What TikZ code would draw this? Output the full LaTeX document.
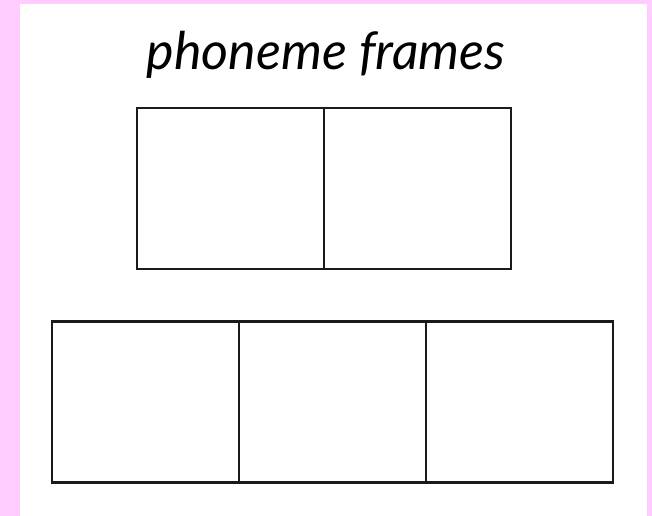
\documentclass[tikz,border=0pt]{standalone}
\usepackage{fontspec}
\newfontfamily\titlefont{Lato}
\definecolor{pagepink}{HTML}{FFCCFF}
\definecolor{framegray}{HTML}{1A1A1A}

\begin{document}
\begin{tikzpicture}[x=1bp,y=-1bp,
    frame/.style={draw=framegray,line width=2.4bp,minimum width=187bp,
      minimum height=161bp,inner sep=0pt,outer sep=0pt}]
  % page and pink margin
  \fill[pagepink] (0,0) rectangle (652,516);
  \fill[white] (20,4) rectangle (647,516);
  \useasboundingbox (0,0) rectangle (652,516);
  % title
  \node (title) at (326,55) {\titlefont\itshape\fontsize{52bp}{56bp}\selectfont phoneme frames};
  % two frames
  \node[frame] (twoA) at (230.5,188.5) {};
  \node[frame] (twoB) at (417.5,188.5) {};
  % three frames
  \node[frame] (threeA) at (145.5,402) {};
  \node[frame] (threeB) at (332.5,402) {};
  \node[frame] (threeC) at (519.5,402) {};
\end{tikzpicture}
\end{document}
